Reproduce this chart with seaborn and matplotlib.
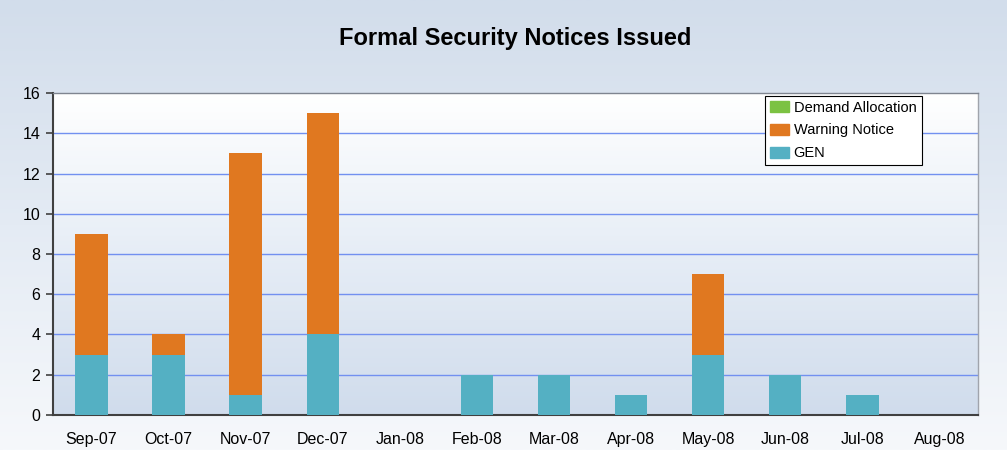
import numpy as np
import pandas as pd
import matplotlib
matplotlib.use("Agg")
import matplotlib.pyplot as plt
import seaborn as sns
from matplotlib.patches import Patch
from matplotlib.colors import LinearSegmentedColormap

months = ["Sep-07", "Oct-07", "Nov-07", "Dec-07", "Jan-08", "Feb-08",
          "Mar-08", "Apr-08", "May-08", "Jun-08", "Jul-08", "Aug-08"]
gen = [3, 3, 1, 4, 0, 2, 2, 1, 3, 2, 1, 0]
warning = [6, 1, 12, 11, 0, 0, 0, 0, 4, 0, 0, 0]
demand = [0, 0, 0, 0, 0, 0, 0, 0, 0, 0, 0, 0]

c_gen = "#54b0c3"
c_warn = "#e07820"
c_dem = "#7cc242"

dados = pd.DataFrame({"Mes": months, "GEN": gen, "Warning": warning, "Demand": demand})
dados["Total"] = dados["GEN"] + dados["Warning"] + dados["Demand"]
dados["GenWarn"] = dados["GEN"] + dados["Warning"]

sns.set_style("white")
plt.rcParams["font.family"] = ["Liberation Sans", "DejaVu Sans"]
plt.rcParams["text.color"] = "black"
plt.rcParams["xtick.color"] = "black"
plt.rcParams["ytick.color"] = "black"

fig = plt.figure(figsize=(10.07, 4.5), dpi=100)

# fundo da figura com degradê
bg = fig.add_axes([0, 0, 1, 1], zorder=-10)
fig_cmap = LinearSegmentedColormap.from_list("figbg", ["#f6f8fb", "#e4ebf4", "#d2ddeb"])
bg.imshow(np.linspace(0, 1, 256).reshape(-1, 1), cmap=fig_cmap, aspect="auto",
          extent=[0, 1, 0, 1], origin="lower")
bg.axis("off")

ax = fig.add_axes([0.0526, 0.0778, 0.9186, 0.7155])
plot_cmap = LinearSegmentedColormap.from_list("plotbg", ["#d0dcec", "#e6edf6", "#ffffff"])
ax.imshow(np.linspace(0, 1, 256).reshape(-1, 1), cmap=plot_cmap, aspect="auto",
          extent=[-0.5, 11.5, 0, 16], origin="lower", zorder=0)

for y in range(2, 16, 2):
    ax.axhline(y, color="#7290f0", linewidth=1, zorder=1)

# barras empilhadas: total atrás, depois GEN+Warning, depois GEN
for col, cor, z in [("Total", c_dem, 2), ("GenWarn", c_warn, 3), ("GEN", c_gen, 4)]:
    sns.barplot(x="Mes", y=col, data=dados, color=cor, width=0.42,
                saturation=1, linewidth=0, edgecolor="none", ax=ax, zorder=z)

ax.set_xlim(-0.5, 11.5)
ax.set_ylim(0, 16)
ax.set_yticks(range(0, 17, 2))
ax.set_xlabel("")
ax.set_ylabel("")

ax.set_xticks(np.arange(-0.5, 12, 1), minor=True)
ax.tick_params(axis="x", which="major", length=0, pad=12, labelsize=11.5)
ax.tick_params(axis="x", which="minor", length=5, width=1.2, color="#404040", direction="out")
ax.tick_params(axis="y", length=5, width=1.2, color="#404040", direction="out", labelsize=11.5, pad=4)
ax.tick_params(bottom=True, left=True)

ax.spines["left"].set_color("#404040")
ax.spines["left"].set_linewidth(1.5)
ax.spines["bottom"].set_color("#404040")
ax.spines["bottom"].set_linewidth(1.5)
ax.spines["top"].set_color("#7f8590")
ax.spines["top"].set_linewidth(1)
ax.spines["right"].set_color("#a0a4ac")
ax.spines["right"].set_linewidth(1)

handles = [Patch(color=c_dem, label="Demand Allocation"),
           Patch(color=c_warn, label="Warning Notice"),
           Patch(color=c_gen, label="GEN")]
leg = ax.legend(handles=handles, loc="upper right", bbox_to_anchor=(0.939, 0.992),
                frameon=True, fancybox=False, fontsize=10.5, handlelength=1.3,
                handleheight=0.8, handletextpad=0.3, borderpad=0.35, labelspacing=0.6,
                borderaxespad=0)
leg.get_frame().set_edgecolor("black")
leg.get_frame().set_linewidth(0.8)
leg.get_frame().set_facecolor("white")
leg.get_frame().set_alpha(1)

fig.text(0.512, 0.915, "Formal Security Notices Issued", ha="center", va="center",
         fontsize=17, fontweight="bold")

fig.savefig("out.png", dpi=100)
